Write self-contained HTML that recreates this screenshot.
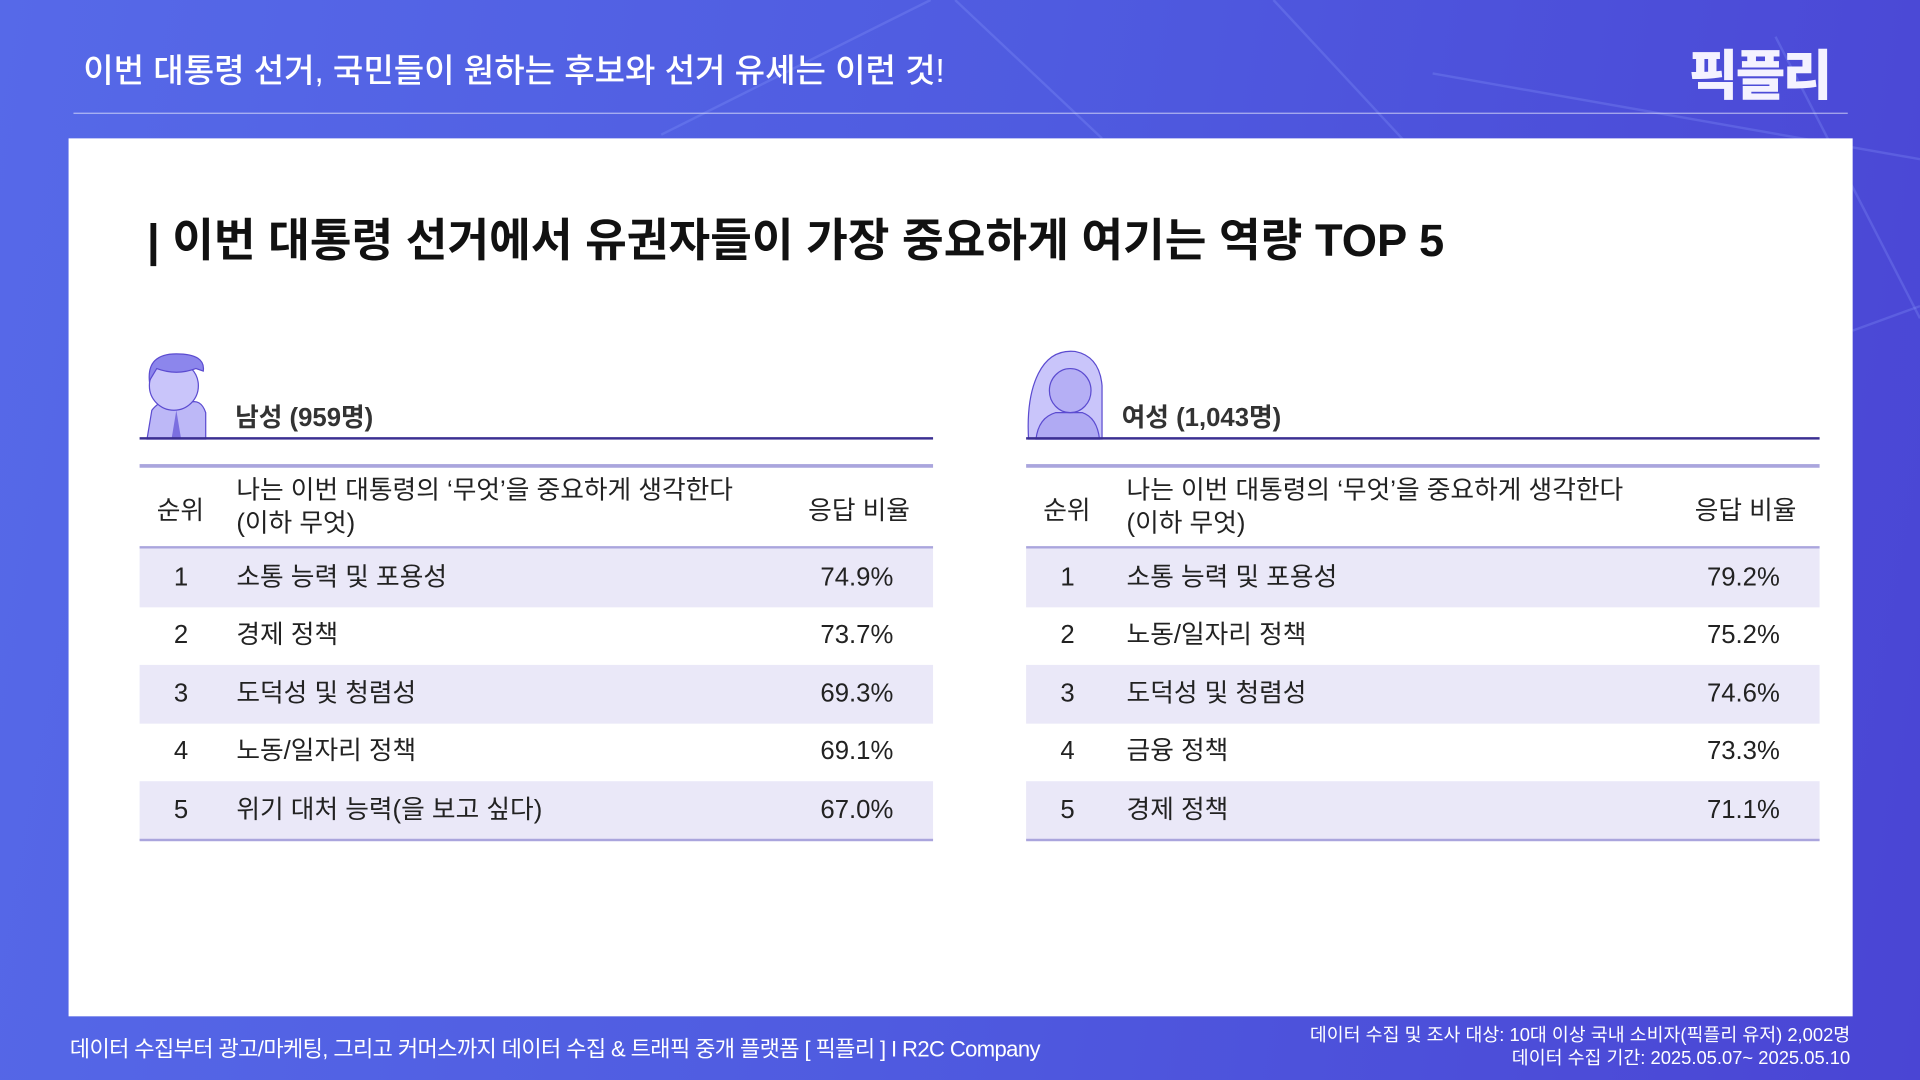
<!DOCTYPE html>
<html><head><meta charset="utf-8">
<style>
html,body{margin:0;padding:0;width:1920px;height:1080px;overflow:hidden;}
body{font-family:"Liberation Sans","Noto Sans CJK KR",sans-serif;}
#s{position:absolute;left:0;top:0;width:1568px;height:882px;transform:scale(1.22449);transform-origin:0 0;
background:linear-gradient(100deg,#5669e8 0%,#4f5be0 50%,#4a45d4 100%);overflow:hidden;}
.a{position:absolute;white-space:nowrap;}
.panel{position:absolute;left:56px;top:113px;width:1457px;height:717px;background:#fff;}
.tbl{position:absolute;top:285px;width:648px;height:402px;}
.tbl .lab{position:absolute;left:78px;top:40px;font-size:21px;font-weight:bold;color:#333;}
.tbl .dl{position:absolute;left:0;top:72px;width:648px;height:2px;background:#3b2f92;}
.tbl .hl{position:absolute;left:0;width:648px;height:3px;background:#aaa5dd;}
.row{position:absolute;left:0;width:648px;height:47.6px;font-size:21px;color:#222;line-height:47px;}
.row span{position:absolute;top:0;}
.sh{background:#eae8f8;}
.hd{position:absolute;font-size:21px;color:#222;}
</style></head><body>
<div id="s">
<svg class="a" style="left:0;top:0" width="1568" height="882">
<g stroke="#8fa0ff" stroke-opacity="0.25" stroke-width="2" fill="none">
<line x1="540" y1="110" x2="760" y2="0"/><line x1="1040" y1="0" x2="1170" y2="140"/>
<line x1="1170" y1="60" x2="1568" y2="130"/><line x1="780" y1="0" x2="900" y2="113"/>
<line x1="1450" y1="30" x2="1568" y2="260"/><line x1="1513" y1="270" x2="1568" y2="250"/>
</g></svg>
<div class="a" style="left:68px;top:36px;font-size:27px;color:#fff;font-weight:500;">이번 대통령 선거, 국민들이 원하는 후보와 선거 유세는 이런 것!</div>
<div class="a" style="left:1379px;top:26px;font-size:44px;color:#f4f2ff;font-weight:900;letter-spacing:-2px;">픽플리</div>
<div class="a" style="left:60px;top:92px;width:1449px;height:1px;background:rgba(255,255,255,0.55);"></div>
<div class="panel"></div>
<div class="a" style="left:120px;top:166px;font-size:37px;font-weight:bold;color:#111;">| 이번 대통령 선거에서 유권자들이 가장 중요하게 여기는 역량 TOP 5</div>

<div class="tbl" style="left:114px;">
<svg class="a" style="left:0;top:0" width="56" height="74"><path d="M6 74 L10 50 Q18 40 26 44 L40 44 Q50 40 54 52 L54 74Z" fill="#bdb8f7" stroke="#5b4bd0"/><ellipse cx="28" cy="30" rx="20" ry="20" fill="#c9c5fa" stroke="#5b4bd0"/><path d="M8 26 Q6 4 30 4 Q54 4 52 18 L46 16 Q30 22 14 16 Z" fill="#8c86ec" stroke="#5b4bd0"/><path d="M30 50 L34 74 L26 74Z" fill="#7b6fe0"/></svg>
<div class="lab">남성 (959명)</div><div class="dl"></div>
<div class="hl" style="top:94px"></div>
<div class="hd" style="left:14px;top:116px">순위</div>
<div class="hd" style="left:79px;top:102px;line-height:27px">나는 이번 대통령의 ‘무엇’을 중요하게 생각한다<br>(이하 무엇)</div>
<div class="hd" style="left:546px;top:116px">응답 비율</div>
<div class="hl" style="top:161px;height:2px"></div>
<div class="row sh" style="top:163px"><span style="left:28px">1</span><span style="left:79px">소통 능력 및 포용성</span><span style="left:556px">74.9%</span></div>
<div class="row" style="top:210px"><span style="left:28px">2</span><span style="left:79px">경제 정책</span><span style="left:556px">73.7%</span></div>
<div class="row sh" style="top:258px"><span style="left:28px">3</span><span style="left:79px">도덕성 및 청렴성</span><span style="left:556px">69.3%</span></div>
<div class="row" style="top:305px"><span style="left:28px">4</span><span style="left:79px">노동/일자리 정책</span><span style="left:556px">69.1%</span></div>
<div class="row sh" style="top:353px"><span style="left:28px">5</span><span style="left:79px">위기 대처 능력(을 보고 싶다)</span><span style="left:556px">67.0%</span></div>
<div class="hl" style="top:400px;height:2px"></div>
</div>

<div class="tbl" style="left:838px;">
<svg class="a" style="left:0;top:0" width="64" height="74"><path d="M2 74 Q0 40 10 20 Q20 0 40 2 Q60 6 62 30 L62 74Z" fill="#c9c5fa" stroke="#5b4bd0"/><path d="M8 74 Q10 56 24 52 L46 52 Q58 56 60 74Z" fill="#b0aaf3" stroke="#5b4bd0"/><ellipse cx="36" cy="34" rx="17" ry="18" fill="#b5aff5" stroke="#5b4bd0"/></svg>
<div class="lab">여성 (1,043명)</div><div class="dl"></div>
<div class="hl" style="top:94px"></div>
<div class="hd" style="left:14px;top:116px">순위</div>
<div class="hd" style="left:82px;top:102px;line-height:27px">나는 이번 대통령의 ‘무엇’을 중요하게 생각한다<br>(이하 무엇)</div>
<div class="hd" style="left:546px;top:116px">응답 비율</div>
<div class="hl" style="top:161px;height:2px"></div>
<div class="row sh" style="top:163px"><span style="left:28px">1</span><span style="left:82px">소통 능력 및 포용성</span><span style="left:556px">79.2%</span></div>
<div class="row" style="top:210px"><span style="left:28px">2</span><span style="left:82px">노동/일자리 정책</span><span style="left:556px">75.2%</span></div>
<div class="row sh" style="top:258px"><span style="left:28px">3</span><span style="left:82px">도덕성 및 청렴성</span><span style="left:556px">74.6%</span></div>
<div class="row" style="top:305px"><span style="left:28px">4</span><span style="left:82px">금융 정책</span><span style="left:556px">73.3%</span></div>
<div class="row sh" style="top:353px"><span style="left:28px">5</span><span style="left:82px">경제 정책</span><span style="left:556px">71.1%</span></div>
<div class="hl" style="top:400px;height:2px"></div>
</div>

<div class="a" style="left:57px;top:843px;font-size:18px;letter-spacing:-0.5px;color:#fff;">데이터 수집부터 광고/마케팅, 그리고 커머스까지 데이터 수집 &amp; 트래픽 중개 플랫폼 [ 픽플리 ]  I  R2C Company</div>
<div class="a" style="right:57px;top:836px;font-size:15px;color:#fff;text-align:right;line-height:19px;">데이터 수집 및 조사 대상: 10대 이상 국내 소비자(픽플리 유저) 2,002명<br>데이터 수집 기간: 2025.05.07~ 2025.05.10</div>
</div>
</body></html>
